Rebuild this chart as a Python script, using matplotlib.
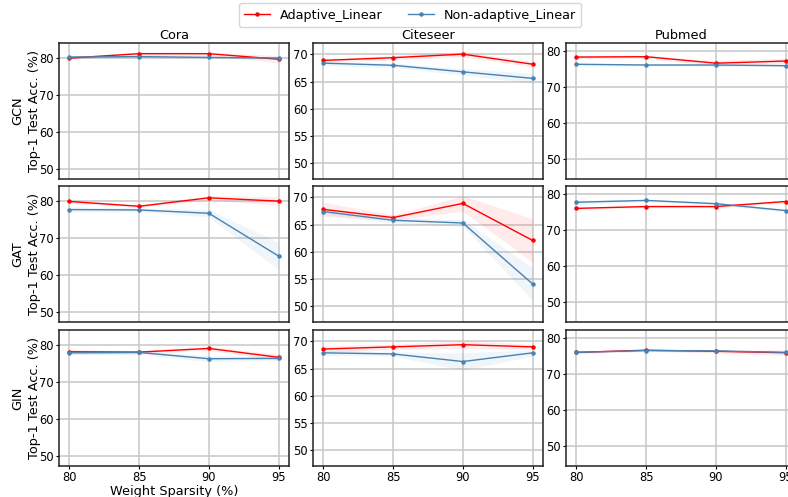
import numpy as np
import matplotlib
matplotlib.use("Agg")
import matplotlib.pyplot as plt

sparsity = [80, 85, 90, 95]
datasets = ["Cora", "Citeseer", "Pubmed"]
models = ["GCN", "GAT", "GIN"]

# mean accuracy (rows: model, cols: dataset)
adaptive = {
    ("GCN", "Cora"): [80.0, 81.2, 81.2, 79.7],
    ("GCN", "Citeseer"): [68.9, 69.4, 70.05, 68.2],
    ("GCN", "Pubmed"): [78.2, 78.3, 76.5, 77.1],
    ("GAT", "Cora"): [79.9, 78.6, 80.9, 80.0],
    ("GAT", "Citeseer"): [67.8, 66.3, 68.9, 62.1],
    ("GAT", "Pubmed"): [75.9, 76.4, 76.4, 77.8],
    ("GIN", "Cora"): [78.2, 78.1, 79.1, 76.7],
    ("GIN", "Citeseer"): [68.6, 69.0, 69.4, 69.0],
    ("GIN", "Pubmed"): [75.9, 76.5, 76.2, 75.8],
}
non_adaptive = {
    ("GCN", "Cora"): [80.3, 80.4, 80.2, 80.0],
    ("GCN", "Citeseer"): [68.4, 68.0, 66.8, 65.6],
    ("GCN", "Pubmed"): [76.2, 76.0, 76.0, 75.8],
    ("GAT", "Cora"): [77.7, 77.6, 76.7, 65.1],
    ("GAT", "Citeseer"): [67.4, 65.8, 65.3, 54.1],
    ("GAT", "Pubmed"): [77.6, 78.1, 77.2, 75.3],
    ("GIN", "Cora"): [77.9, 78.0, 76.3, 76.4],
    ("GIN", "Citeseer"): [67.9, 67.7, 66.3, 67.9],
    ("GIN", "Pubmed"): [75.9, 76.4, 76.3, 75.9],
}
# standard deviation (shaded band)
adaptive_std = {
    ("GCN", "Cora"): [0.3, 0.5, 0.4, 1.0],
    ("GCN", "Citeseer"): [0.3, 0.4, 0.5, 0.5],
    ("GCN", "Pubmed"): [0.4, 0.4, 0.8, 0.8],
    ("GAT", "Cora"): [0.4, 0.3, 0.6, 1.2],
    ("GAT", "Citeseer"): [1.3, 0.5, 1.4, 4.0],
    ("GAT", "Pubmed"): [0.3, 0.3, 0.3, 0.4],
    ("GIN", "Cora"): [0.6, 0.4, 0.5, 0.9],
    ("GIN", "Citeseer"): [0.6, 0.5, 0.7, 0.5],
    ("GIN", "Pubmed"): [0.3, 0.3, 0.4, 0.8],
}
non_adaptive_std = {
    ("GCN", "Cora"): [0.3, 0.3, 0.3, 0.4],
    ("GCN", "Citeseer"): [0.4, 0.4, 0.6, 0.9],
    ("GCN", "Pubmed"): [0.3, 0.3, 0.3, 0.3],
    ("GAT", "Cora"): [0.7, 0.5, 1.0, 3.7],
    ("GAT", "Citeseer"): [0.5, 0.5, 0.6, 3.0],
    ("GAT", "Pubmed"): [0.6, 0.3, 0.4, 0.4],
    ("GIN", "Cora"): [0.5, 0.5, 0.8, 0.5],
    ("GIN", "Citeseer"): [0.5, 0.4, 1.6, 0.6],
    ("GIN", "Pubmed"): [0.3, 0.3, 0.3, 0.3],
}

ylims = {"Cora": (47.2, 84.1), "Citeseer": (47.1, 72.1), "Pubmed": (44.4, 82.1)}
yticks = {"Cora": [50, 60, 70, 80], "Citeseer": [50, 55, 60, 65, 70], "Pubmed": [50, 60, 70, 80]}

W, H = 788, 497
fig = plt.figure(figsize=(W / 100, H / 100), dpi=100)

col_left = [59, 313, 566]
row_top = [43, 186, 330]
ax_w, ax_h = 230, 136

red = "#ff0000"
blue = "#4682b4"

for i, m in enumerate(models):
    for j, d in enumerate(datasets):
        ax = fig.add_axes([col_left[j] / W, 1 - (row_top[i] + ax_h) / H, ax_w / W, ax_h / H])
        a = np.array(adaptive[(m, d)])
        sa = np.array(adaptive_std[(m, d)])
        n = np.array(non_adaptive[(m, d)])
        sn = np.array(non_adaptive_std[(m, d)])
        ax.plot(sparsity, a, color=red, marker="o", markersize=2.2, linewidth=1.0,
                label="Adaptive_Linear", zorder=3)
        ax.fill_between(sparsity, a - sa, a + sa, color=red, alpha=0.08, linewidth=0)
        ax.plot(sparsity, n, color=blue, marker="o", markersize=2.2, linewidth=1.0,
                label="Non-adaptive_Linear", zorder=3)
        ax.fill_between(sparsity, n - sn, n + sn, color=blue, alpha=0.08, linewidth=0)

        ax.set_ylim(*ylims[d])
        ax.set_yticks(yticks[d])
        ax.set_xticks(sparsity)
        ax.grid(True, color="#c8c8c8", linewidth=1.1)
        ax.set_axisbelow(True)
        ax.tick_params(labelsize=8.3, length=2.5, width=0.8, pad=1.2)
        for sp in ax.spines.values():
            sp.set_linewidth(1.1)
            sp.set_color("#222222")
        if i < 2:
            ax.set_xticklabels([])
            ax.tick_params(axis="x", length=0)
        if i == 0:
            ax.set_title(d, fontsize=9.3, pad=3)
        if j == 0:
            ax.set_ylabel(m + "\nTop-1 Test Acc. (%)", fontsize=9.3, labelpad=-1, linespacing=1.35)
        if i == 2 and j == 0:
            ax.set_xlabel("Weight Sparsity (%)", fontsize=9.3, labelpad=0.3)
        if i == 0 and j == 0:
            handles, labels = ax.get_legend_handles_labels()

fig.legend(handles, labels, loc="center", bbox_to_anchor=(410 / W, 1 - 15 / H), ncol=2,
           fontsize=9.2, frameon=True, markerscale=1.0, handlelength=2.0, columnspacing=2.0,
           borderpad=0.4)

fig.savefig("out.png", dpi=100)
